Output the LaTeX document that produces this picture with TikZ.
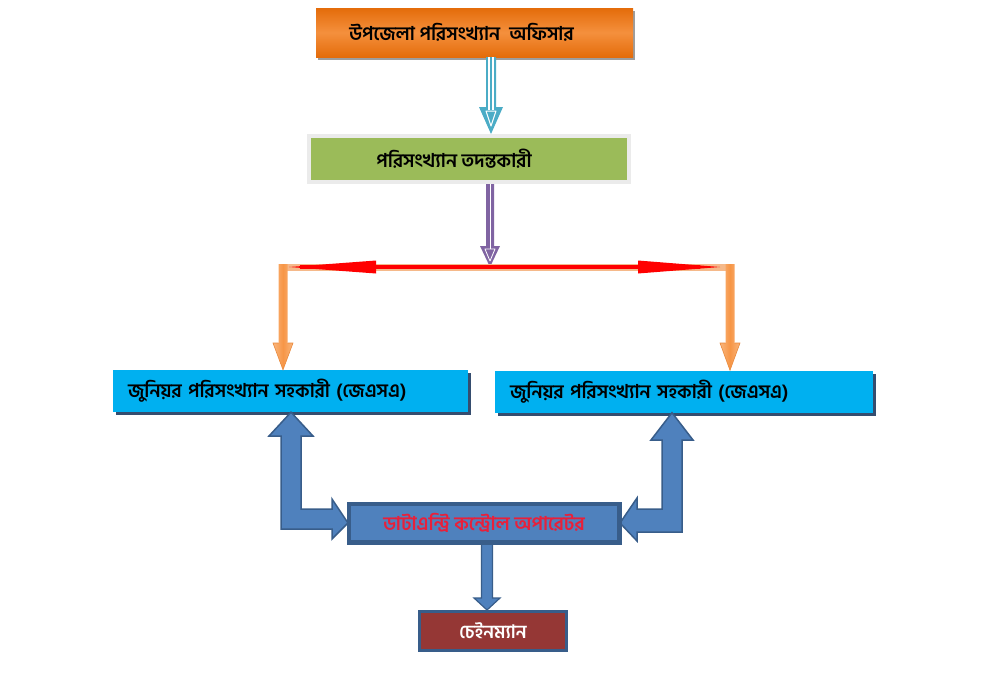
\documentclass[tikz,border=0pt]{standalone}
\usepackage{fontspec}
\newfontfamily\bn[Script=Bengali]{Hind Siliguri}
\usetikzlibrary{shadows,calc}
\definecolor{orgD}{HTML}{E46C0A}
\definecolor{orgL}{HTML}{F79646}
\definecolor{grn}{HTML}{9BBB59}
\definecolor{cyanB}{HTML}{00B0F0}
\definecolor{steel}{HTML}{4F81BD}
\definecolor{steelD}{HTML}{385D8A}
\definecolor{aqua}{HTML}{4BACC6}
\definecolor{purp}{HTML}{8064A2}
\definecolor{brick}{HTML}{953735}
\definecolor{navyS}{HTML}{1F3A5F}
\definecolor{peach}{HTML}{F5B98A}
\definecolor{redT}{HTML}{E8203A}
\tikzset{
  boxbase/.style={rectangle, inner sep=0pt, font=\bn\bfseries\fontsize{19}{22}\selectfont},
  topbox/.style={boxbase, top color=orgD, bottom color=orgD, middle color=orgL!85!orgD,
    minimum width=317pt, minimum height=49pt,
    drop shadow={shadow xshift=2pt, shadow yshift=-3pt, fill=black!55, opacity=0.7}},
  grnbox/.style={boxbase, fill=grn, draw=black!8, line width=4pt,
    minimum width=320pt, minimum height=46pt,
    drop shadow={shadow xshift=2pt, shadow yshift=-2pt, fill=black!25, opacity=0.5}},
  jrbox/.style={boxbase, fill=cyanB, align=left, inner xsep=15pt, minimum height=42pt,
    drop shadow={shadow xshift=3pt, shadow yshift=-3pt, fill=navyS, opacity=0.9}},
  debox/.style={boxbase, fill=steel, draw=steelD, line width=3pt, text=redT,
    minimum width=269pt, minimum height=37pt},
  chbox/.style={boxbase, fill=brick, draw=steelD, line width=3pt, text=white,
    minimum width=147pt, minimum height=39pt, font=\bn\bfseries\fontsize{18.5}{21}\selectfont},
  blockarrow/.style={fill=steel, draw=steelD, line width=1.5pt, line join=miter},
}
\begin{document}
\begin{tikzpicture}[x=1pt,y=-1pt]
\useasboundingbox (0,0) rectangle (982,678);
% nodes
\node[topbox] (off) at (474.5,32.5) {উপজেলা পরিসংখ্যান\ \ অফিসার\hspace*{26pt}};
\node[grnbox] (inv) at (469,159) {পরিসংখ্যান তদন্তকারী\hspace*{30pt}};
\node[jrbox, text width=325pt] (jr1) at (290.5,391) {জুনিয়র পরিসংখ্যান সহকারী (জেএসএ)};
\node[jrbox, text width=348pt] (jr2) at (684,391.5) {জুনিয়র পরিসংখ্যান সহকারী (জেএসএ)};
\node[debox] (de) at (484,523) {ডাটাএন্ট্রি কন্ট্রোল অপারেটর};
\node[chbox] (ch) at (493,631) {চেইনম্যান};

% top aqua arrow
\fill[aqua] (486,0 |- off.south) -- (496,0 |- off.south) -- (496,107) -- (503,107)
  -- (491,0 |- inv.north) -- (479,107) -- (486,107) -- cycle;
\draw[white, line width=1.2pt] (489,0 |- off.south) -- (489,110) (493,0 |- off.south) -- (493,110);
\draw[white, line width=1pt, line join=round] (486,111) -- (496,111) -- (491,126) -- cycle;

% purple arrow
\coordinate (split) at (490,267);
\fill[purp] (486,0 |- inv.south) -- (494,0 |- inv.south) -- (494,246) -- (500,246)
  -- (split) -- (480,246) -- (486,246) -- cycle;
\draw[white, line width=1pt] (490,0 |- inv.south) -- (490,249);
\draw[white, line width=0.8pt, line join=round] (485,249) -- (495,249) -- (490,261) -- cycle;

% red double arrow
\coordinate (lc) at (283,267);
\coordinate (rc) at (730,267);
\draw[peach, line width=7pt] (lc) -- (rc);
\draw[red, line width=4pt] (300,267) -- (700,267);
\fill[red] (289,267) -- (376,260.5) -- (376,273.5) -- cycle;
\fill[red] (720,267) -- (638,260.5) -- (638,273.5) -- cycle;

% orange down arrows
\shade[left color=orgL!70, right color=orgL!70, middle color=orgL]
  (278.5,264) -- (287.5,264) -- (287.5,343) -- (293,343) -- (283,0 |- jr1.north)
  -- (273,343) -- (278.5,343) -- cycle;
\shade[left color=orgL!70, right color=orgL!70, middle color=orgL]
  (725.5,264) -- (734.5,264) -- (734.5,343) -- (740,343) -- (730,0 |- jr2.north)
  -- (720,343) -- (725.5,343) -- cycle;
\draw[orgD!80, line width=0.6pt] (278.5,343) -- (273,343) -- (283,0 |- jr1.north) -- (293,343) -- (287.5,343);
\draw[orgD!80, line width=0.6pt] (725.5,343) -- (720,343) -- (730,0 |- jr2.north) -- (740,343) -- (734.5,343);

% left elbow arrow
\draw[blockarrow] (291,0 |- jr1.south) -- (313,436) -- (301,436) -- (301,509) -- (332,509)
  -- (332,499) -- (de.west) -- (332,539) -- (332,529) -- (281,529) -- (281,436)
  -- (269,436) -- cycle;
% right elbow arrow
\draw[blockarrow] (672,0 |- jr2.south) -- (693,440) -- (682,440) -- (682,532) -- (637,532)
  -- (637,541) -- (de.east) -- (637,498) -- (637,509) -- (662,509) -- (662,440)
  -- (651,440) -- cycle;

% down arrow to chainman
\draw[blockarrow, line width=1.2pt] (481.5,0 |- de.south) -- (492.5,0 |- de.south) -- (492.5,598) -- (500,598)
  -- (487,0 |- ch.north) -- (474,598) -- (481.5,598) -- cycle;
% redraw box edge over arrows
\draw[steelD, line width=3pt] (de.south west) rectangle (de.north east);
\end{tikzpicture}
\end{document}
